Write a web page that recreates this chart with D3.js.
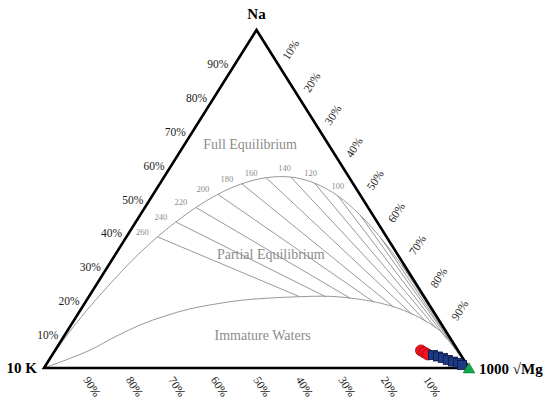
<!DOCTYPE html>
<html>
<head>
<meta charset="utf-8">
<script src="https://cdn.jsdelivr.net/npm/d3@7"></script>
<style>
  html, body { margin: 0; padding: 0; background: #fff; }
  svg text { font-family: "Liberation Serif", "Times New Roman", serif; }
</style>
</head>
<body>
<svg id="chart"></svg>
<script>
// ternary points are [Na, 10K, 1000√Mg] fractions
const fullEquilibrium = [
  [0, 1, 0], [0.065, 0.932, 0.003], [0.100, 0.894, 0.006], [0.169, 0.816, 0.015],
  [0.240, 0.731, 0.029], [0.307, 0.648, 0.045], [0.346, 0.597, 0.057],
  [0.388, 0.539, 0.073], [0.432, 0.474, 0.094], [0.475, 0.405, 0.120],
  [0.514, 0.334, 0.152], [0.545, 0.262, 0.193], [0.563, 0.196, 0.241],
  [0.565, 0.137, 0.298], [0.547, 0.090, 0.363], [0.509, 0.054, 0.437],
  [0.453, 0.030, 0.517], [0.383, 0.015, 0.602], [0.306, 0.006, 0.688],
  [0.227, 0.002, 0.771], [0.156, 0.001, 0.843], [0.097, 0.000, 0.903], [0, 0, 1]
];

const immatureLine = [
  [0, 1, 0], [0.024, 0.936, 0.040], [0.053, 0.865, 0.082], [0.092, 0.787, 0.121],
  [0.127, 0.711, 0.162], [0.154, 0.638, 0.208], [0.175, 0.569, 0.256],
  [0.189, 0.503, 0.308], [0.200, 0.439, 0.361], [0.207, 0.365, 0.428],
  [0.211, 0.292, 0.497], [0.212, 0.221, 0.567], [0.204, 0.159, 0.637],
  [0.192, 0.113, 0.695], [0.175, 0.075, 0.750], [0.148, 0.041, 0.811],
  [0.110, 0.013, 0.877], [0.068, 0.006, 0.926], [0, 0, 1]
];

const tieTemps = [260, 240, 220, 200, 180, 160, 140, 120, 100, 80, 60, 40];
const tieTop = [
  [0.388, 0.539, 0.073], [0.432, 0.474, 0.094], [0.475, 0.405, 0.120],
  [0.514, 0.334, 0.152], [0.545, 0.262, 0.193], [0.563, 0.196, 0.241],
  [0.565, 0.137, 0.298], [0.547, 0.090, 0.363], [0.509, 0.054, 0.437],
  [0.453, 0.030, 0.517], [0.383, 0.015, 0.602], [0.306, 0.006, 0.688]
];
const tieBottom = [
  [0.211, 0.293, 0.496], [0.211, 0.232, 0.557], [0.206, 0.176, 0.618],
  [0.196, 0.127, 0.677], [0.180, 0.087, 0.733], [0.159, 0.055, 0.786],
  [0.137, 0.033, 0.830], [0.118, 0.019, 0.863], [0.085, 0.009, 0.906],
  [0.050, 0.003, 0.947], [0.040, 0.002, 0.958], [0.030, 0.001, 0.969]
];
const tempLabels = [260, 240, 220, 200, 180, 160, 140, 120, 100];

const ticks = [10, 20, 30, 40, 50, 60, 70, 80, 90];

const redSamples = [[0.052, 0.087, 0.861], [0.046, 0.082, 0.872], [0.040, 0.077, 0.883]];
const blueSamples = [
  [0.0385, 0.0655, 0.896], [0.034, 0.056, 0.910], [0.030, 0.046, 0.924],
  [0.024, 0.038, 0.938], [0.019, 0.028, 0.953], [0.015, 0.018, 0.967], [0.009, 0.012, 0.979]
];
const greenSamples = [[0, 0, 1]];

const width = 550, height = 406;
const svg = d3.select("#chart").attr("width", width).attr("height", height);

const xScale = d3.scaleLinear().domain([0, 1]).range([44, 469]);
const yScale = d3.scaleLinear().domain([0, 1]).range([368, 30]);

function proj(p) {
  const s = p[0] + p[1] + p[2];
  const na = p[0] / s, mg = p[2] / s;
  return [xScale(mg + na / 2), yScale(na)];
}

const grey = "#8c8c8c";
const line = d3.line().x(d => proj(d)[0]).y(d => proj(d)[1]);
const smooth = d3.line().x(d => proj(d)[0]).y(d => proj(d)[1]).curve(d3.curveCatmullRom.alpha(0.5));

// tie lines
svg.append("g").selectAll("path")
  .data(tieTemps)
  .enter().append("path")
  .attr("d", (t, i) => line([tieTop[i], tieBottom[i]]))
  .attr("fill", "none").attr("stroke", grey).attr("stroke-width", 0.9);

svg.append("path").attr("d", smooth(fullEquilibrium))
  .attr("fill", "none").attr("stroke", grey).attr("stroke-width", 0.9);
svg.append("path").attr("d", smooth(immatureLine))
  .attr("fill", "none").attr("stroke", grey).attr("stroke-width", 0.9);

// temperature labels
const labelOffset = {140: [-6, -9], 120: [-4, -10], 100: [0, -10]};
svg.append("g").selectAll("text")
  .data(tempLabels)
  .enter().append("text")
  .attr("x", (t, i) => proj(tieTop[i])[0] + (labelOffset[t] ? labelOffset[t][0] : -15))
  .attr("y", (t, i) => proj(tieTop[i])[1] + (labelOffset[t] ? labelOffset[t][1] : -5))
  .attr("text-anchor", "middle").attr("dominant-baseline", "central")
  .attr("font-size", 8.5).attr("fill", grey)
  .text(t => t);

// region labels
const regions = [
  {text: "Full Equilibrium", p: [0.66, 0.185, 0.155]},
  {text: "Partial Equilibrium", p: [0.337, 0.298, 0.365]},
  {text: "Immature Waters", p: [0.095, 0.438, 0.467]}
];
svg.append("g").selectAll("text")
  .data(regions)
  .enter().append("text")
  .attr("x", d => proj(d.p)[0]).attr("y", d => proj(d.p)[1])
  .attr("text-anchor", "middle").attr("dominant-baseline", "central")
  .attr("font-size", 14).attr("fill", grey)
  .text(d => d.text);

// triangle frame
const corners = [[1, 0, 0], [0, 1, 0], [0, 0, 1]];
svg.append("path")
  .attr("d", line(corners) + "Z")
  .attr("fill", "none").attr("stroke", "#000").attr("stroke-width", 2.6)
  .attr("stroke-linejoin", "miter");

// axis labels
const left = svg.append("g").attr("font-size", 11.5).attr("fill", "#1a1a1a");
left.selectAll("text").data(ticks).enter().append("text")
  .attr("transform", v => {
    const [x, y] = proj([v / 100, 1 - v / 100, 0]);
    return `translate(${x - 17.5},${y + 0.5})`;
  })
  .attr("text-anchor", "middle").attr("dominant-baseline", "central")
  .text(v => v + "%");

const right = svg.append("g").attr("font-size", 11.5).attr("fill", "#1a1a1a");
right.selectAll("text").data(ticks).enter().append("text")
  .attr("transform", v => {
    const [x, y] = proj([1 - v / 100, 0, v / 100]);
    const f = (v - 10) / 80;
    return `translate(${x + 13 - f},${y - 14 - 10 * f}) rotate(-57)`;
  })
  .attr("text-anchor", "middle").attr("dominant-baseline", "central")
  .text(v => v + "%");

const bottom = svg.append("g").attr("font-size", 11.5).attr("fill", "#1a1a1a");
bottom.selectAll("text").data(ticks).enter().append("text")
  .attr("transform", v => {
    const [x, y] = proj([0, v / 100, 1 - v / 100]);
    return `translate(${x + 5.5},${y + 18.5}) rotate(57)`;
  })
  .attr("text-anchor", "middle").attr("dominant-baseline", "central")
  .text(v => v + "%");

// vertex labels
const na = proj(corners[0]), k = proj(corners[1]), mg = proj(corners[2]);
svg.append("text").attr("x", na[0]).attr("y", na[1] - 11)
  .attr("text-anchor", "middle").attr("font-size", 15).attr("font-weight", "bold").text("Na");
svg.append("text").attr("x", k[0] - 7).attr("y", k[1] + 5)
  .attr("text-anchor", "end").attr("font-size", 15).attr("font-weight", "bold").text("10 K");
svg.append("text").attr("x", mg[0] + 10).attr("y", mg[1] + 6)
  .attr("text-anchor", "start").attr("font-size", 15).attr("font-weight", "bold").text("1000 √Mg");

// samples
svg.append("g").selectAll("circle").data(redSamples).enter().append("circle")
  .attr("cx", d => proj(d)[0]).attr("cy", d => proj(d)[1]).attr("r", 5.5)
  .attr("fill", "#f0141e").attr("stroke", "#a00010").attr("stroke-width", 0.8);

svg.append("g").selectAll("rect").data(blueSamples).enter().append("rect")
  .attr("x", d => proj(d)[0] - 4.5).attr("y", d => proj(d)[1] - 4.5)
  .attr("width", 9).attr("height", 9)
  .attr("fill", "#1f3a84").attr("stroke", "#0a1440").attr("stroke-width", 0.8);

svg.append("g").selectAll("path").data(greenSamples).enter().append("path")
  .attr("transform", d => `translate(${proj(d)[0]},${proj(d)[1] + 1.5})`)
  .attr("d", d3.symbol(d3.symbolTriangle, 60))
  .attr("fill", "#10a64a").attr("stroke", "#0a7a34").attr("stroke-width", 0.6);
</script>
</body>
</html>
